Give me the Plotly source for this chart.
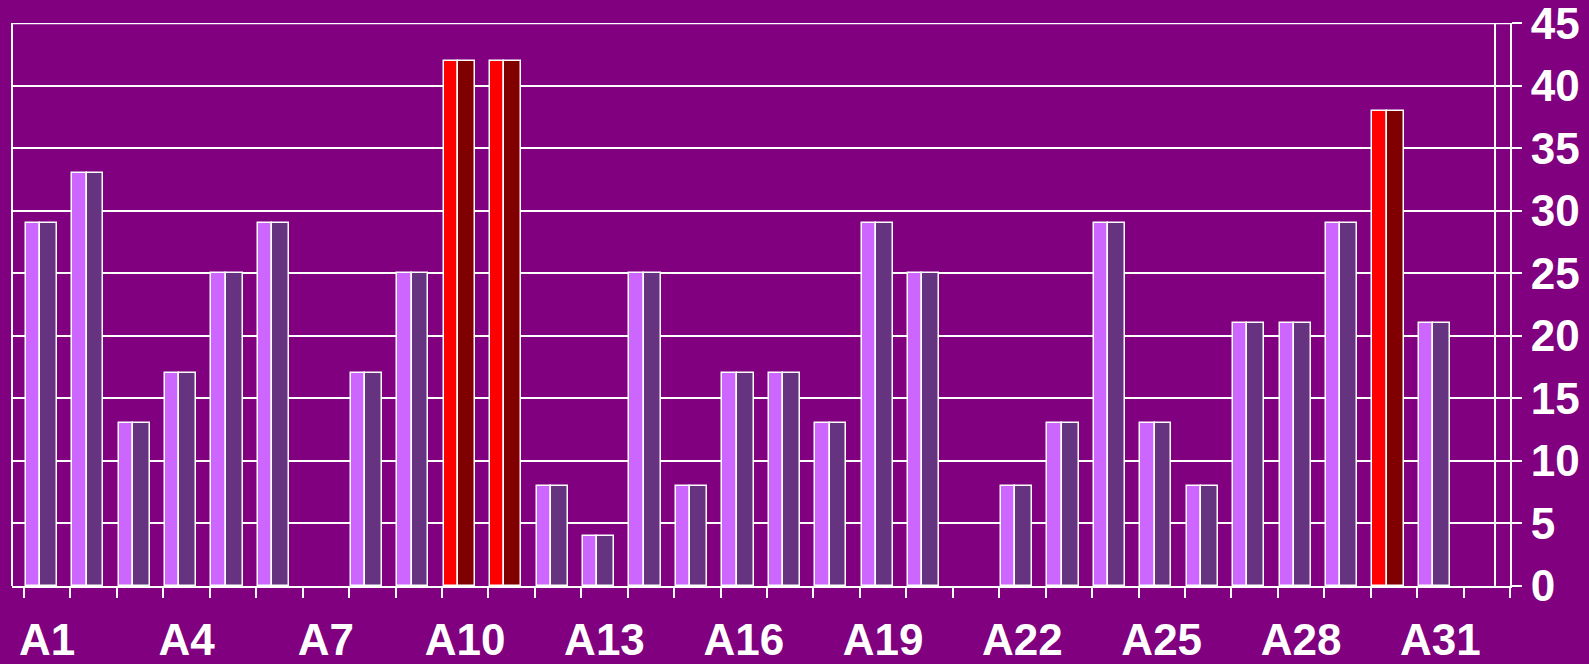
import plotly.graph_objects as go

categories = [f"A{i}" for i in range(1, 33)]
values = [29, 33, 13, 17, 25, 29, 0, 17, 25, 42, 42, 8, 4, 25, 8, 17,
          17, 13, 29, 25, 0, 8, 13, 29, 13, 8, 21, 21, 29, 38, 21, 0]
highlight = ["A10", "A11", "A30"]
label_every = 3
y_ticks = list(range(0, 50, 5))
y_max = 45

LIGHT = "#CC66FF"
DARK = "#663380"
LIGHT_HI = "#FF0000"
DARK_HI = "#800000"
BG = "#800080"
FONT = "Liberation Sans, Arial, sans-serif"

pos = list(range(len(categories)))
light_colors = [LIGHT_HI if c in highlight else LIGHT for c in categories]
dark_colors = [DARK_HI if c in highlight else DARK for c in categories]
outline_w = [1.5 if v > 0 else 0 for v in values]

fig = go.Figure()
fig.add_trace(go.Bar(x=pos, y=values, offset=0.037, width=0.31,
                     marker=dict(color=light_colors, line=dict(color="white", width=outline_w)),
                     hoverinfo="skip"))
fig.add_trace(go.Bar(x=pos, y=values, offset=0.347, width=0.363,
                     marker=dict(color=dark_colors, line=dict(color="white", width=outline_w)),
                     hoverinfo="skip"))

n = len(categories)
label_pos = [i + 0.5 for i in range(0, n, label_every)]
label_txt = categories[::label_every]

fig.update_layout(
    width=1589, height=664,
    margin=dict(l=12, r=79, t=23, b=78),
    paper_bgcolor=BG, plot_bgcolor=BG,
    barmode="overlay", bargap=0,
    showlegend=False,
    font=dict(family=FONT, color="white", size=44),
    xaxis=dict(
        range=[-12 / (1486 / n), n], automargin=False,
        tickmode="array", tickvals=label_pos, ticktext=label_txt,
        ticks="", showgrid=False, zeroline=False,
        showline=True, linecolor="white", linewidth=2,
        tickfont=dict(family=FONT, size=44, color="white", weight="bold"),
        ticklabelstandoff=14, ticklabeloverflow="allow",
        minor=dict(tickmode="array", tickvals=list(range(0, n + 1)),
                   ticks="outside", ticklen=10, tickcolor="white", tickwidth=2,
                   showgrid=False),
    ),
    yaxis=dict(
        side="right", range=[0, y_max + 0.01], automargin=False,
        tickmode="array", tickvals=y_ticks, ticklabeloverflow="allow",
        showgrid=True, gridcolor="white", gridwidth=2,
        showline=True, linecolor="white", linewidth=2,
        ticks="outside", ticklen=10, tickcolor="white", tickwidth=2,
        zeroline=False,
        tickfont=dict(family=FONT, size=44, color="white", weight="bold"),
    ),
    shapes=[
        dict(type="line", xref="paper", yref="paper", x0=0, x1=0, y0=0, y1=1,
             line=dict(color="white", width=2)),
        dict(type="line", xref="paper", yref="paper", x0=0.99, x1=0.99, y0=0, y1=1,
             line=dict(color="white", width=2)),
        dict(type="line", xref="paper", yref="y", x0=0, x1=1, y0=y_max, y1=y_max,
             line=dict(color="white", width=2)),
    ],
)

fig.write_html(
    "out.html",
    config={"displayModeBar": False},
    post_script="document.body.style.margin='0';document.body.style.background='#800080';",
)
